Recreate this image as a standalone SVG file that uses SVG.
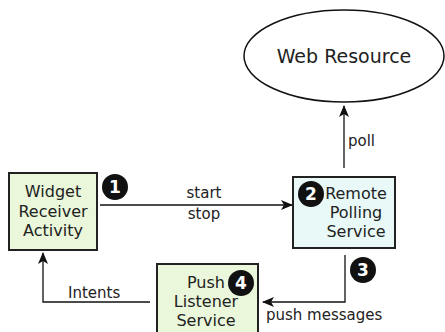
<svg xmlns="http://www.w3.org/2000/svg" width="445" height="332" viewBox="0 0 445 332">
<style>
text{font-family:"DejaVu Sans","Liberation Sans",sans-serif;fill:#222}
.box{stroke:#222;stroke-width:2}
.lbl{font-size:15px}
.bt{font-size:16px;text-anchor:middle}
.conn{fill:none;stroke:#111;stroke-width:1.3}
.badge circle{fill:#111}
.badge text{fill:#fff;font-weight:bold;font-size:17px;text-anchor:middle}
</style>
<defs>
<marker id="ah" viewBox="0 0 12 10" refX="11" refY="5" markerWidth="12" markerHeight="10" markerUnits="userSpaceOnUse" orient="auto">
<path d="M0,0 L12,5 L0,10 L3,5 Z" fill="#111"/>
</marker>
</defs>
<rect width="445" height="332" fill="#fff"/>
<g id="connectors">
<line class="conn" x1="100" y1="205" x2="292" y2="205" marker-end="url(#ah)"/>
<text class="lbl" x="204" y="198" text-anchor="middle">start</text>
<text class="lbl" x="204" y="219" text-anchor="middle">stop</text>
<line class="conn" x1="344" y1="168" x2="344" y2="106" marker-end="url(#ah)"/>
<text class="lbl" x="348" y="146">poll</text>
<polyline class="conn" points="345,255 345,302 263,302" marker-end="url(#ah)" stroke="#333"/>
<text class="lbl" x="266" y="320">push messages</text>
<polyline class="conn" points="150,302 43,302 43,253" marker-end="url(#ah)"/>
<text class="lbl" x="68" y="298">Intents</text>
</g>
<g id="web-resource">
<ellipse cx="344" cy="56" rx="100" ry="46" fill="#fff" stroke="#111" stroke-width="1.5"/>
<text x="344" y="63" font-size="19px" text-anchor="middle">Web Resource</text>
</g>
<g id="widget">
<rect class="box" x="9" y="173" width="88" height="77" fill="#eaf7da"/>
<text class="bt" x="53" y="197">Widget</text>
<text class="bt" x="53" y="217">Receiver</text>
<text class="bt" x="53" y="236">Activity</text>
</g>
<g id="remote">
<rect class="box" x="293" y="177" width="102" height="71" fill="#e8f9f8"/>
<text class="bt" x="356" y="199">Remote</text>
<text class="bt" x="356" y="218">Polling</text>
<text class="bt" x="356" y="237">Service</text>
</g>
<g id="push">
<rect class="box" x="157" y="264" width="101" height="72" fill="#eaf7da" stroke="#333"/>
<text class="bt" x="206" y="288">Push</text>
<text class="bt" x="206" y="307">Listener</text>
<text class="bt" x="206" y="326">Service</text>
</g>
<g id="badge1" class="badge"><circle cx="115" cy="187" r="13"/><text x="115" y="193">1</text></g>
<g id="badge2" class="badge"><circle cx="311" cy="194" r="13"/><text x="311" y="200">2</text></g>
<g id="badge3" class="badge"><circle cx="363" cy="270" r="13"/><text x="363" y="276">3</text></g>
<g id="badge4" class="badge"><circle cx="241" cy="283" r="13"/><text x="241" y="289">4</text></g>
</svg>
